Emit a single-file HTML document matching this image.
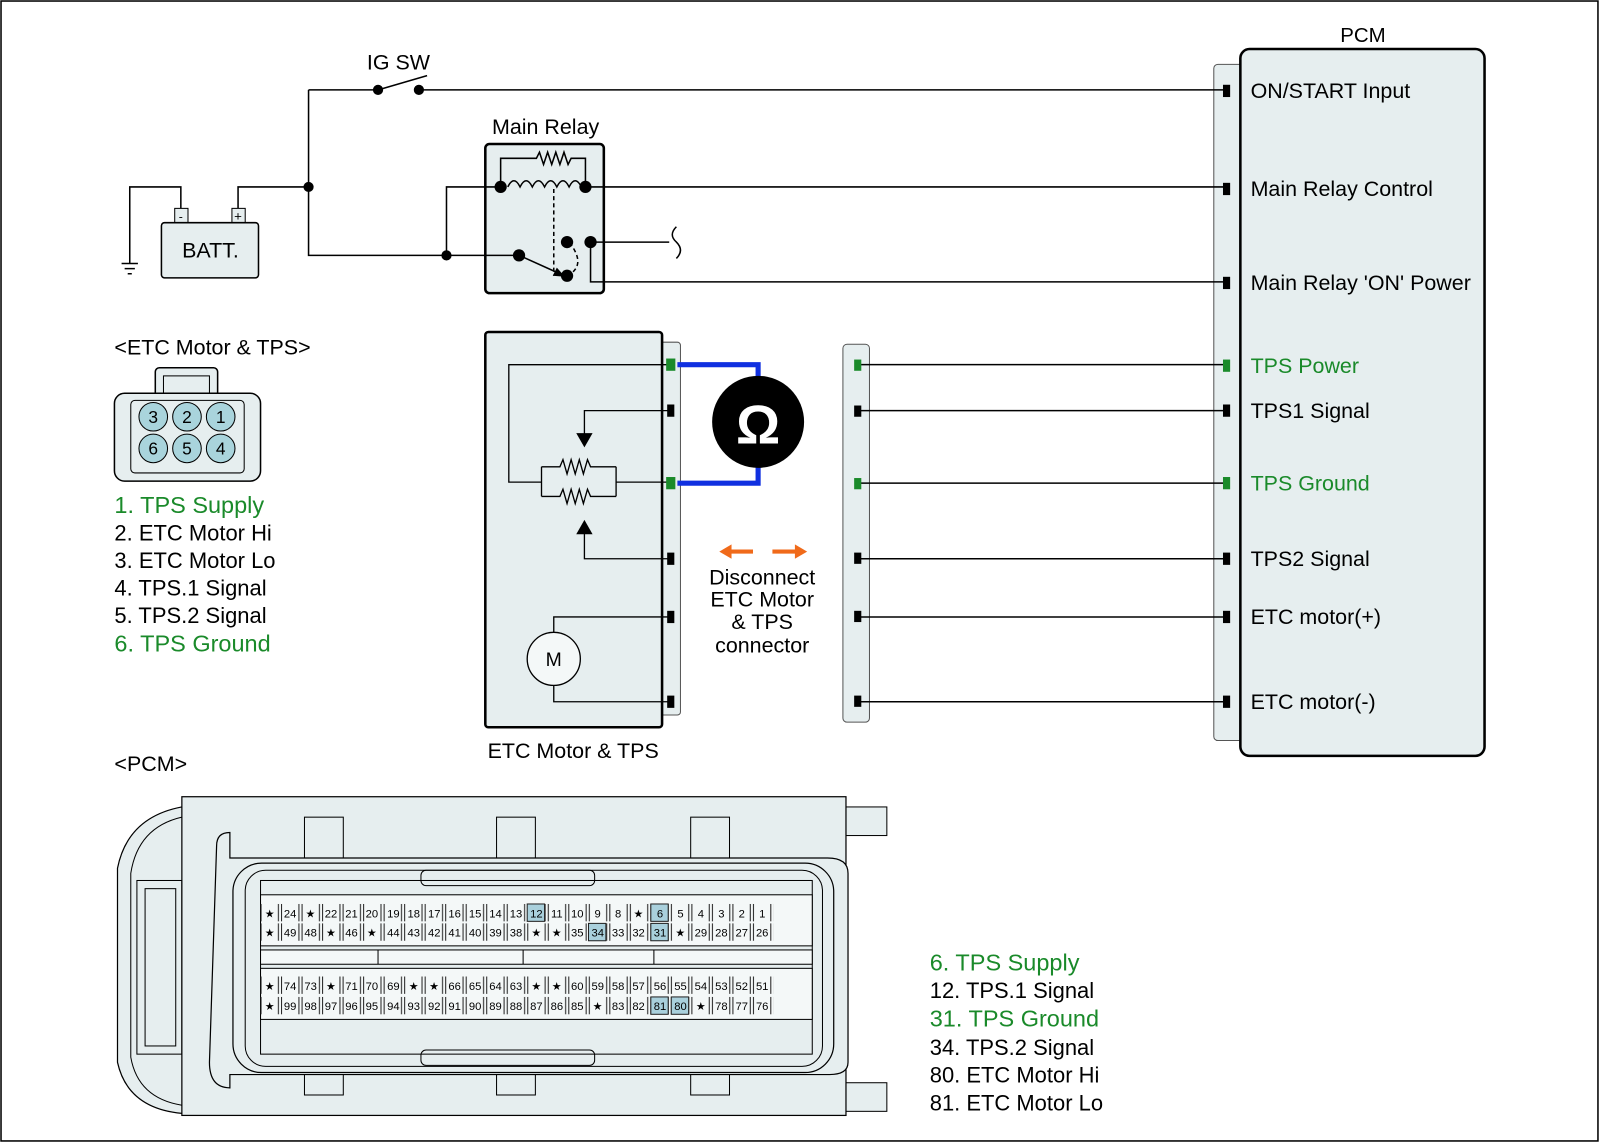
<!DOCTYPE html>
<html><head><meta charset="utf-8"><style>
html,body{margin:0;padding:0;background:#fff}
svg{display:block}
text{font-family:"Liberation Sans",Arial,sans-serif}
</style></head><body>
<svg width="1600" height="1143" viewBox="0 0 1566 1119" preserveAspectRatio="none" xmlns="http://www.w3.org/2000/svg">
<defs>
<pattern id="cells" x="255" y="0" width="20.08" height="200" patternUnits="userSpaceOnUse">
<rect x="0.5" y="0" width="17" height="200" fill="#f4f8f8" stroke="#222" stroke-width="1"/>
</pattern>
</defs>
<rect x="1" y="1" width="1563" height="1116" fill="#fff" stroke="#000" stroke-width="1.5"/>

<!-- PCM box -->
<rect x="1188" y="63" width="30" height="662" rx="4" fill="#e6eeef" stroke="#555" stroke-width="1"/>
<rect x="1214" y="48" width="239" height="692" rx="9" fill="#e6eeef" stroke="#000" stroke-width="2.5"/>
<text x="1334" y="41" font-size="20" text-anchor="middle">PCM</text>
<g font-size="21">
<text x="1224" y="96">ON/START Input</text>
<text x="1224" y="192">Main Relay Control</text>
<text x="1224" y="284">Main Relay 'ON' Power</text>
<text x="1224" y="365" fill="#1a8a2a">TPS Power</text>
<text x="1224" y="409">TPS1 Signal</text>
<text x="1224" y="480" fill="#1a8a2a">TPS Ground</text>
<text x="1224" y="554">TPS2 Signal</text>
<text x="1224" y="611">ETC motor(+)</text>
<text x="1224" y="694">ETC motor(-)</text>
</g>

<!-- wires -->
<g stroke="#000" stroke-width="1.5" fill="none">
<path d="M302 88 H370"/><path d="M370 88 L418 74"/><path d="M410 88 H1200"/>
<path d="M302 88 V250 H508"/>
<path d="M233 204 V183 H302"/>
<path d="M177 204 V183 H127 V258"/>
<path d="M119 258 H135 M122 263 H132 M125 268 H129"/>
<path d="M437 250 V183 H490"/>
<path d="M573 183 H1200"/>
<path d="M578 237 H655"/>
<path d="M662 222 q-8 8 0 15 q8 8 0 16"/>
<path d="M578 237 V276 H1200"/>
<path d="M490 183 V155 H525 l3-6 4 12 4-12 4 12 4-12 4 12 4-12 4 12 3-6 H573 V183"/>
<path d="M497 183 q6-12 12 0 q6-12 12 0 q6-12 12 0 q6-12 12 0 q6-12 12 0 q6-12 12 0"/>
<path d="M542 185 V270" stroke-dasharray="4 3"/>
<path d="M555 270 q20-10 2-33" stroke-dasharray="4 3"/>
<path d="M508 250 L548 268"/>
</g>
<polygon points="553,271 541,270 545,262" fill="#000"/>
<rect x="475" y="141" width="116" height="146" rx="4" fill="#e6eeef" stroke="#000" stroke-width="2.5" style="mix-blend-mode:multiply"/>
<g fill="#000">
<circle cx="370" cy="88" r="5"/><circle cx="410" cy="88" r="5"/>
<circle cx="302" cy="183" r="5"/><circle cx="437" cy="250" r="5"/>
<circle cx="490" cy="183" r="6"/><circle cx="573" cy="183" r="6"/>
<circle cx="508" cy="250" r="6"/><circle cx="555" cy="270" r="6"/>
<circle cx="555" cy="237" r="6"/><circle cx="578" cy="237" r="6"/>
</g>
<text x="534" y="131" font-size="21" text-anchor="middle">Main Relay</text>
<text x="390" y="68" font-size="21" text-anchor="middle">IG SW</text>
<rect x="171" y="204" width="13" height="14" fill="#e6eeef" stroke="#000"/>
<rect x="227" y="204" width="13" height="14" fill="#e6eeef" stroke="#000"/>
<text x="177" y="216" font-size="12" text-anchor="middle">-</text>
<text x="233" y="216" font-size="13" text-anchor="middle">+</text>
<rect x="158" y="218" width="95" height="54" rx="3" fill="#e6eeef" stroke="#000" stroke-width="1.5"/>
<text x="206" y="252" font-size="21" text-anchor="middle">BATT.</text>

<!-- ETC connector face -->
<text x="112" y="347" font-size="21">&lt;ETC Motor &amp; TPS&gt;</text>
<rect x="152" y="360" width="61" height="30" rx="4" fill="#e6eeef" stroke="#000" stroke-width="1.5"/>
<rect x="160" y="368" width="45" height="18" fill="none" stroke="#000" stroke-width="1"/>
<rect x="112" y="385" width="143" height="86" rx="10" fill="#e6eeef" stroke="#000" stroke-width="1.5"/>
<rect x="128" y="392" width="111" height="71" rx="4" fill="none" stroke="#000" stroke-width="1"/>
<g fill="#a9d4dc" stroke="#000" stroke-width="1">
<circle cx="150" cy="408" r="14"/><circle cx="183" cy="408" r="14"/><circle cx="216" cy="408" r="14"/>
<circle cx="150" cy="439" r="14"/><circle cx="183" cy="439" r="14"/><circle cx="216" cy="439" r="14"/>
</g>
<g font-size="17" text-anchor="middle">
<text x="150" y="414">3</text><text x="183" y="414">2</text><text x="216" y="414">1</text>
<text x="150" y="445">6</text><text x="183" y="445">5</text><text x="216" y="445">4</text>
</g>
<g font-size="21.5">
<text x="112" y="502" fill="#1a8a2a" font-size="23">1. TPS Supply</text>
<text x="112" y="529">2. ETC Motor Hi</text>
<text x="112" y="556">3. ETC Motor Lo</text>
<text x="112" y="583">4. TPS.1 Signal</text>
<text x="112" y="610">5. TPS.2 Signal</text>
<text x="112" y="638" fill="#1a8a2a" font-size="23">6. TPS Ground</text>
</g>

<!-- ETC motor box -->
<rect x="645" y="335" width="21" height="365" rx="3" fill="#e6eeef" stroke="#555" stroke-width="1"/>
<rect x="475" y="325" width="173" height="387" rx="3" fill="#e6eeef" stroke="#000" stroke-width="2.5"/>
<g stroke="#000" stroke-width="1.3" fill="none">
<path d="M656 357 H498 V472 H530"/>
<path d="M530 457 V486 M603 457 V486"/>
<path d="M530 457 H548 l3-7 4 14 4-14 4 14 4-14 4 14 4-14 3 7 H603"/>
<path d="M530 486 H548 l3-7 4 14 4-14 4 14 4-14 4 14 4-14 3 7 H603"/>
<path d="M603 472 H656"/>
<path d="M656 402 H572 V425"/>
<path d="M656 547 H572 V522"/>
<path d="M656 604 H542 V619"/>
<path d="M656 687 H542 V671"/>
</g>
<polygon points="564,424 580,424 572,438" fill="#000"/>
<polygon points="564,523 580,523 572,509" fill="#000"/>
<circle cx="542" cy="645" r="26" fill="#f4f8f8" stroke="#000" stroke-width="1.3"/>
<text x="542" y="652" font-size="19" text-anchor="middle">M</text>
<text x="561" y="742" font-size="21" text-anchor="middle">ETC Motor &amp; TPS</text>
<path d="M663 357 H742 V380 M663 473 H742 V445" stroke="#1030e0" stroke-width="5" fill="none"/>
<circle cx="742" cy="413" r="45" fill="#000"/>
<text x="742" y="434" font-size="54" font-weight="bold" fill="#fff" text-anchor="middle">Ω</text>
<g stroke="#f06a1a" stroke-width="4"><path d="M713 540 H737 M756 540 H780"/></g>
<polygon points="704,540 716,533 716,547" fill="#f06a1a"/>
<polygon points="790,540 778,533 778,547" fill="#f06a1a"/>
<g font-size="21" text-anchor="middle">
<text x="746" y="572">Disconnect</text><text x="746" y="594">ETC Motor</text>
<text x="746" y="616">&amp; TPS</text><text x="746" y="639">connector</text>
</g>

<!-- middle strip -->
<rect x="825" y="337" width="26" height="370" rx="4" fill="#e6eeef" stroke="#555" stroke-width="1"/>
<g stroke="#000" stroke-width="1.5">
<path d="M839 357 H1200"/><path d="M839 402 H1200"/><path d="M839 473 H1200"/>
<path d="M839 547 H1200"/><path d="M839 604 H1200"/><path d="M839 687 H1200"/>
</g>
<g fill="#000">
<rect x="836" y="397" width="7" height="11"/><rect x="836" y="541" width="7" height="11"/>
<rect x="836" y="598" width="7" height="11"/><rect x="836" y="681" width="7" height="11"/>
<rect x="653" y="396" width="7" height="12"/><rect x="653" y="541" width="7" height="12"/>
<rect x="653" y="598" width="7" height="12"/><rect x="653" y="681" width="7" height="12"/>
<rect x="1197" y="83" width="7" height="12"/><rect x="1197" y="179" width="7" height="12"/>
<rect x="1197" y="271" width="7" height="12"/><rect x="1197" y="396" width="7" height="12"/>
<rect x="1197" y="541" width="7" height="12"/><rect x="1197" y="598" width="7" height="12"/>
<rect x="1197" y="681" width="7" height="12"/>
</g>
<g fill="#1a8a2a">
<rect x="836" y="352" width="7" height="11"/><rect x="836" y="468" width="7" height="11"/>
<rect x="652" y="351" width="9" height="12"/><rect x="652" y="467" width="9" height="12"/>
<rect x="1197" y="352" width="7" height="12"/><rect x="1197" y="467" width="7" height="12"/>
</g>

<!-- PCM connector -->
<text x="112" y="755" font-size="21">&lt;PCM&gt;</text>
<path d="M178 790 Q125 800 115 850 V1040 Q125 1085 178 1090" fill="#e6eeef" stroke="#000" stroke-width="1.2"/>
<path d="M178 800 Q135 810 128 855 V1035 Q135 1075 178 1082" fill="none" stroke="#000" stroke-width="1"/>
<rect x="134" y="862" width="44" height="170" fill="#e6eeef" stroke="#000" stroke-width="1"/>
<rect x="142" y="870" width="30" height="154" fill="none" stroke="#000" stroke-width="1"/>
<rect x="828" y="790" width="40" height="28" fill="#e6eeef" stroke="#000"/>
<rect x="828" y="1060" width="40" height="28" fill="#e6eeef" stroke="#000"/>
<rect x="178" y="780" width="650" height="312" fill="#e6eeef" stroke="#000" stroke-width="1.2"/>
<g fill="#e6eeef" stroke="#000" stroke-width="1">
<rect x="298" y="800" width="38" height="40"/><rect x="486" y="800" width="38" height="40"/><rect x="676" y="800" width="38" height="40"/>
<rect x="298" y="1032" width="38" height="40"/><rect x="486" y="1032" width="38" height="40"/><rect x="676" y="1032" width="38" height="40"/>
</g>
<path d="M212 828 Q212 815 225 815 V840 H810 Q830 840 830 855 V1040 Q830 1052 812 1052 H225 V1065 Q205 1065 205 1040 Z" fill="#e6eeef" stroke="#000" stroke-width="1.2"/>
<rect x="228" y="845" width="588" height="205" rx="28" fill="#e6eeef" stroke="#000" stroke-width="1.2"/>
<rect x="240" y="852" width="565" height="192" rx="20" fill="none" stroke="#000" stroke-width="1"/>
<rect x="255" y="862" width="540" height="170" fill="none" stroke="#000" stroke-width="1"/>
<rect x="412" y="852" width="170" height="15" rx="5" fill="none" stroke="#000"/>
<rect x="412" y="1028" width="170" height="15" rx="5" fill="none" stroke="#000"/>
<rect x="255" y="876" width="540" height="50" fill="#f4f8f8" stroke="#000"/>
<rect x="255" y="948" width="540" height="50" fill="#f4f8f8" stroke="#000"/>
<rect x="255" y="930" width="540" height="14" fill="#f4f8f8" stroke="#000"/>
<path d="M370 930 V944 M512 930 V944 M640 930 V944" stroke="#000"/>
<rect x="255" y="885" width="502" height="17" fill="url(#cells)"/>
<rect x="255" y="904" width="502" height="17" fill="url(#cells)"/>
<rect x="255" y="956" width="502" height="17" fill="url(#cells)"/>
<rect x="255" y="976" width="502" height="17" fill="url(#cells)"/>
<g fill="#a9d0dc" stroke="#222">
<rect x="516" y="885" width="17" height="17"/><rect x="637" y="885" width="17" height="17"/>
<rect x="576" y="904" width="17" height="17"/><rect x="637" y="904" width="17" height="17"/>
<rect x="657" y="976" width="17" height="17"/><rect x="637" y="976" width="17" height="17"/>
</g>
<g font-size="11" text-anchor="middle">
<text y="898"><tspan x="264">★</tspan><tspan x="284">24</tspan><tspan x="304">★</tspan><tspan x="324">22</tspan><tspan x="344">21</tspan><tspan x="364">20</tspan><tspan x="385">19</tspan><tspan x="405">18</tspan><tspan x="425">17</tspan><tspan x="445">16</tspan><tspan x="465">15</tspan><tspan x="485">14</tspan><tspan x="505">13</tspan><tspan x="525">12</tspan><tspan x="545">11</tspan><tspan x="565">10</tspan><tspan x="585">9</tspan><tspan x="605">8</tspan><tspan x="625">★</tspan><tspan x="646">6</tspan><tspan x="666">5</tspan><tspan x="686">4</tspan><tspan x="706">3</tspan><tspan x="726">2</tspan><tspan x="746">1</tspan></text>
<text y="917"><tspan x="264">★</tspan><tspan x="284">49</tspan><tspan x="304">48</tspan><tspan x="324">★</tspan><tspan x="344">46</tspan><tspan x="364">★</tspan><tspan x="385">44</tspan><tspan x="405">43</tspan><tspan x="425">42</tspan><tspan x="445">41</tspan><tspan x="465">40</tspan><tspan x="485">39</tspan><tspan x="505">38</tspan><tspan x="525">★</tspan><tspan x="545">★</tspan><tspan x="565">35</tspan><tspan x="585">34</tspan><tspan x="605">33</tspan><tspan x="625">32</tspan><tspan x="646">31</tspan><tspan x="666">★</tspan><tspan x="686">29</tspan><tspan x="706">28</tspan><tspan x="726">27</tspan><tspan x="746">26</tspan></text>
<text y="969"><tspan x="264">★</tspan><tspan x="284">74</tspan><tspan x="304">73</tspan><tspan x="324">★</tspan><tspan x="344">71</tspan><tspan x="364">70</tspan><tspan x="385">69</tspan><tspan x="405">★</tspan><tspan x="425">★</tspan><tspan x="445">66</tspan><tspan x="465">65</tspan><tspan x="485">64</tspan><tspan x="505">63</tspan><tspan x="525">★</tspan><tspan x="545">★</tspan><tspan x="565">60</tspan><tspan x="585">59</tspan><tspan x="605">58</tspan><tspan x="625">57</tspan><tspan x="646">56</tspan><tspan x="666">55</tspan><tspan x="686">54</tspan><tspan x="706">53</tspan><tspan x="726">52</tspan><tspan x="746">51</tspan></text>
<text y="989"><tspan x="264">★</tspan><tspan x="284">99</tspan><tspan x="304">98</tspan><tspan x="324">97</tspan><tspan x="344">96</tspan><tspan x="364">95</tspan><tspan x="385">94</tspan><tspan x="405">93</tspan><tspan x="425">92</tspan><tspan x="445">91</tspan><tspan x="465">90</tspan><tspan x="485">89</tspan><tspan x="505">88</tspan><tspan x="525">87</tspan><tspan x="545">86</tspan><tspan x="565">85</tspan><tspan x="585">★</tspan><tspan x="605">83</tspan><tspan x="625">82</tspan><tspan x="646">81</tspan><tspan x="666">80</tspan><tspan x="686">★</tspan><tspan x="706">78</tspan><tspan x="726">77</tspan><tspan x="746">76</tspan></text>
</g>
<g font-size="21.5">
<text x="910" y="950" fill="#1a8a2a" font-size="23">6. TPS Supply</text>
<text x="910" y="977">12. TPS.1 Signal</text>
<text x="910" y="1005" fill="#1a8a2a" font-size="23">31. TPS Ground</text>
<text x="910" y="1033">34. TPS.2 Signal</text>
<text x="910" y="1060">80. ETC Motor Hi</text>
<text x="910" y="1087">81. ETC Motor Lo</text>
</g>
</svg>
</body></html>
